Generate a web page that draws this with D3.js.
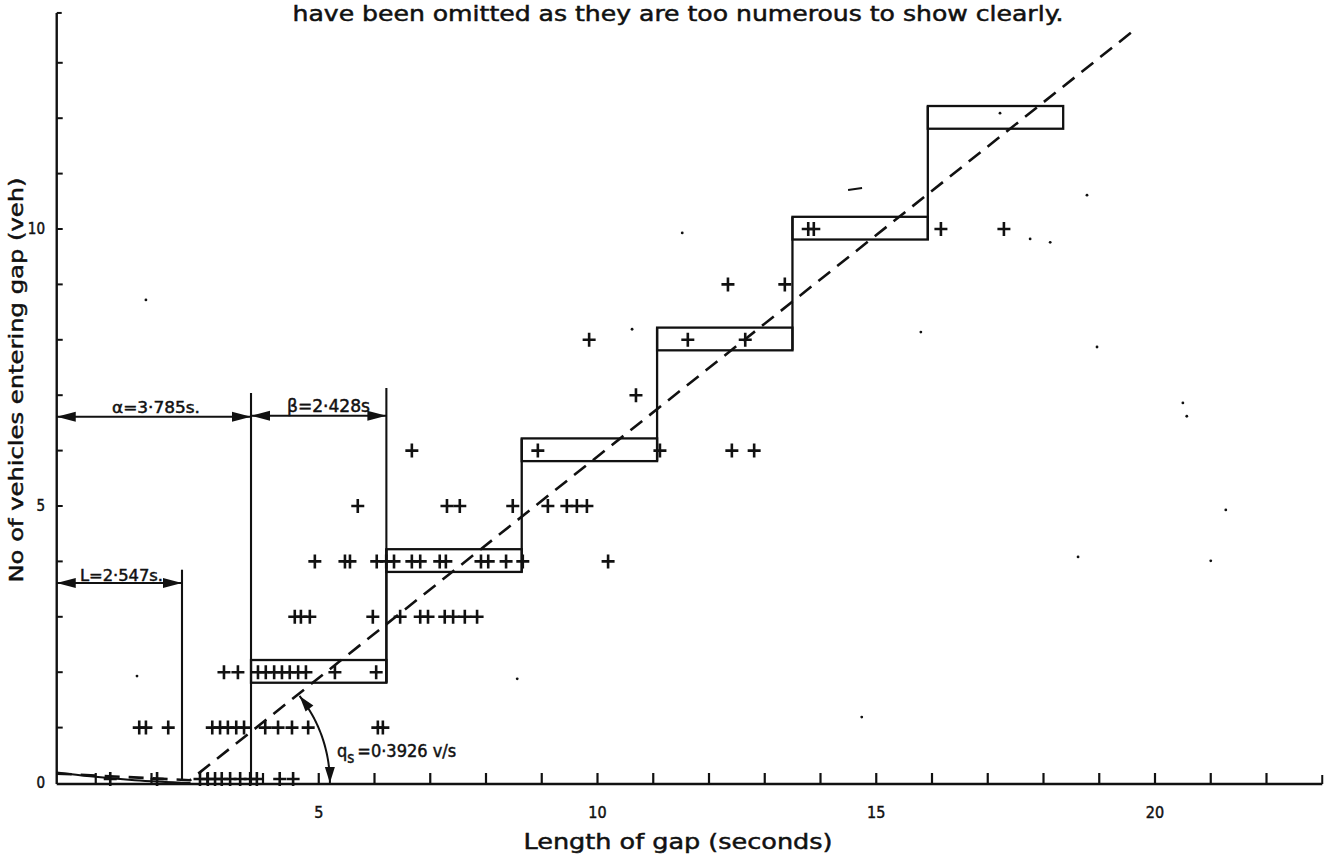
<!DOCTYPE html>
<html><head><meta charset="utf-8">
<script src="https://cdn.jsdelivr.net/npm/d3@7"></script>
<style>
html,body{margin:0;padding:0;background:#fff}
svg{display:block}
text{font-family:"DejaVu Sans Condensed","DejaVu Sans",sans-serif;fill:#111;stroke:#111;stroke-width:0.45px}
</style></head><body>
<svg id="chart" width="1329" height="862"></svg>
<script>
// Gap-acceptance parameters (seconds, vehicles per second)
const alpha = 3.785, beta = 2.428, lag = 2.547, qs = 0.3926;

// Axes
const xTicks = d3.range(1, 23);
const xTickLabels = [5, 10, 15, 20];
const yTicks = d3.range(1, 14);
const yTickLabels = [0, 5, 10];
const yAxisAt = 0.3;      // gap length where the vertical axis is drawn
const yAxisTop = 13.9;
const xAxisEnd = 23;

// Step levels of the fitted staircase (vehicles)
const stepLevels = [2, 4, 6, 8, 10, 12];

// Observed gaps, grouped by number of vehicles entering; values are gap lengths (s)
const entered0 = [1.26, 2.10, 2.87, 3.01, 3.14, 3.26, 3.41, 3.59, 3.77, 3.89, 4.30, 4.54];
const entered1 = [1.78, 1.90, 2.30, 3.09, 3.23, 3.37, 3.52, 3.66, 4.04, 4.27, 4.52, 4.81, 6.06, 6.15];
const entered2 = [3.30, 3.55, 3.91, 4.05, 4.20, 4.34, 4.48, 4.63, 4.77, 5.29, 6.03];
const entered3 = [4.57, 4.68, 4.84, 5.97, 6.46, 6.82, 6.96, 7.26, 7.41, 7.62, 7.84];
const entered4 = [4.93, 5.47, 5.56, 6.04, 6.21, 6.35, 6.67, 6.82, 7.17, 7.28, 7.91, 8.04, 8.36, 8.66, 10.19];
const entered5 = [5.70, 7.30, 7.53, 8.48, 9.11, 9.45, 9.63, 9.81];
const entered6 = [6.67, 8.93, 11.12, 12.41, 12.81];
const entered7 = [10.69];
const entered8 = [9.85, 11.62, 12.65];
const entered9 = [12.34, 13.36];
const entered10 = [13.78, 13.88, 16.16, 17.29];

// Fitted capacity line (dashed) and the lag curve near the origin
const fitLine = [[0.3, 0.17], [1.5, 0.11], [2.69, 0.05], [19.59, 13.56]];
const lagCurve = [[0.3, 0.19], [0.9, 0.12], [1.7, 0.05], [2.7, 0.0]];

// Faint specks and a stray dash on the sheet
const specks = [[18.78, 10.61], [11.52, 9.93], [15.80, 8.14], [17.76, 9.82], [18.12, 9.76],
  [18.96, 7.87], [20.50, 6.86], [20.57, 6.62], [21.27, 4.93], [18.62, 4.08], [21.00, 4.01],
  [14.74, 1.19], [8.56, 1.88], [1.74, 1.93], [17.22, 12.09], [1.90, 8.72], [10.62, 8.19]];
const dashes = [[14.62, 10.72]];

const svg = d3.select("#chart");
const x = d3.scaleLinear().domain([0, 23]).range([40, 1322.25]);
const y = d3.scaleLinear().domain([0, 14]).range([783, 7.4]);

const ink = "#111";
const g = svg.append("g");

// ---- axes ----
g.append("line").attr("x1", x(yAxisAt)).attr("x2", x(xAxisEnd))
  .attr("y1", y(0) + 1).attr("y2", y(0) + 1).attr("stroke", ink).attr("stroke-width", 2.4);
g.append("line").attr("x1", x(yAxisAt)).attr("x2", x(yAxisAt))
  .attr("y1", y(0) + 1).attr("y2", y(yAxisTop)).attr("stroke", ink).attr("stroke-width", 2.4);
g.append("line").attr("x1", x(yAxisAt)).attr("x2", x(yAxisAt) + 5)
  .attr("y1", y(yAxisTop)).attr("y2", y(yAxisTop)).attr("stroke", ink).attr("stroke-width", 2);
g.append("line").attr("x1", x(xAxisEnd)).attr("x2", x(xAxisEnd))
  .attr("y1", y(0) + 1).attr("y2", y(0) - 8).attr("stroke", ink).attr("stroke-width", 2);

g.selectAll(".xt").data(xTicks).join("line")
  .attr("x1", d => x(d)).attr("x2", d => x(d))
  .attr("y1", y(0) + 1).attr("y2", y(0) - 10)
  .attr("stroke", ink).attr("stroke-width", 2.2);
g.selectAll(".yt").data(yTicks).join("line")
  .attr("x1", x(yAxisAt)).attr("x2", x(yAxisAt) + 6)
  .attr("y1", d => y(d)).attr("y2", d => y(d))
  .attr("stroke", ink).attr("stroke-width", 2);

g.selectAll(".xl").data(xTickLabels).join("text")
  .attr("x", d => x(d)).attr("y", 818).attr("text-anchor", "middle")
  .attr("font-size", 16).text(d => d);
g.selectAll(".yl").data(yTickLabels).join("text")
  .attr("x", 45).attr("y", d => y(d) + 5).attr("text-anchor", "end")
  .attr("font-size", 15).text(d => d);

g.append("text").attr("x", 678).attr("y", 849).attr("text-anchor", "middle")
  .attr("font-size", 22).attr("textLength", 309).attr("lengthAdjust", "spacingAndGlyphs")
  .text("Length of gap (seconds)");
g.append("text").attr("transform", "translate(23,380) rotate(-90)").attr("text-anchor", "middle")
  .attr("font-size", 20).attr("textLength", 405).attr("lengthAdjust", "spacingAndGlyphs")
  .text("No of vehicles entering gap (veh)");
g.append("text").attr("x", 678).attr("y", 21).attr("text-anchor", "middle")
  .attr("font-size", 21).attr("textLength", 771).attr("lengthAdjust", "spacingAndGlyphs")
  .text("have been omitted as they are too numerous to show clearly.");

// ---- staircase of fitted critical gaps ----
const boxLo = 0.19, boxHi = 0.22;
const steps = stepLevels.map((lv, k) => ({lv, t0: alpha + k * beta, t1: alpha + (k + 1) * beta}));
g.selectAll(".box").data(steps).join("rect")
  .attr("x", d => x(d.t0)).attr("width", d => x(d.t1) - x(d.t0))
  .attr("y", d => y(d.lv + boxHi)).attr("height", d => y(d.lv - boxLo) - y(d.lv + boxHi))
  .attr("fill", "none").attr("stroke", ink).attr("stroke-width", 2.3);
// risers joining each box to the next one up
g.selectAll(".riser").data(steps.slice(1)).join("line")
  .attr("x1", d => x(d.t0)).attr("x2", d => x(d.t0))
  .attr("y1", d => y(d.lv - 2 - boxLo)).attr("y2", d => y(d.lv + boxHi))
  .attr("stroke", ink).attr("stroke-width", 2.3);

// guide verticals for the dimension arrows
const guides = [[lag, 0.05, 3.85], [alpha, 0, 7.04], [alpha + beta, 2 - boxLo, 7.13]];
g.selectAll(".guide").data(guides).join("line")
  .attr("x1", d => x(d[0])).attr("x2", d => x(d[0]))
  .attr("y1", d => y(d[1])).attr("y2", d => y(d[2]))
  .attr("stroke", ink).attr("stroke-width", 2.1);

// ---- lag curve and fitted line ----
g.append("path").datum(lagCurve)
  .attr("d", d3.line().x(d => x(d[0])).y(d => y(d[1])).curve(d3.curveMonotoneX))
  .attr("fill", "none").attr("stroke", ink).attr("stroke-width", 2);
g.append("path").datum(fitLine)
  .attr("d", d3.line().x(d => x(d[0])).y(d => y(d[1])))
  .attr("fill", "none").attr("stroke", ink).attr("stroke-width", 2.6)
  .attr("stroke-dasharray", "15 9");

// ---- arrowheads ----
function head(px, py, dx, dy, len = 19, hw = 5) {
  const n = Math.hypot(dx, dy); dx /= n; dy /= n;
  const bx = px - dx * len, by = py - dy * len;
  return `M${px},${py}L${bx - dy * hw},${by + dx * hw}L${bx + dy * hw},${by - dx * hw}Z`;
}
function dimension(t0, t1, lv) {
  const yy = y(lv);
  g.append("line").attr("x1", x(t0)).attr("x2", x(t1)).attr("y1", yy).attr("y2", yy)
    .attr("stroke", ink).attr("stroke-width", 2);
  g.append("path").attr("d", head(x(t0), yy, -1, 0)).attr("fill", ink);
  g.append("path").attr("d", head(x(t1), yy, 1, 0)).attr("fill", ink);
}
dimension(yAxisAt, lag, 3.61);
dimension(yAxisAt, alpha, 6.61);
dimension(alpha, alpha + beta, 6.63);

g.append("text").attr("x", 80).attr("y", 581).attr("font-size", 16)
  .attr("textLength", 83).attr("lengthAdjust", "spacingAndGlyphs").text("L=2·547s.");
g.append("text").attr("x", 112).attr("y", 413).attr("font-size", 16)
  .attr("textLength", 88).attr("lengthAdjust", "spacingAndGlyphs").text("α=3·785s.");
g.append("text").attr("x", 287).attr("y", 412).attr("font-size", 17)
  .attr("textLength", 83).attr("lengthAdjust", "spacingAndGlyphs").text("β=2·428s");

// ---- angle arc for the saturation flow ----
const t0 = fitLine[2][0];
const cx = x(t0), cy = y(0);
const r = x(5.2) - cx;
const p2 = fitLine[3];
const theta = Math.atan2(y(0) - y(p2[1] - fitLine[2][1]), x(p2[0]) - cx);
const arcPts = d3.range(0, 41).map(i => {
  const a = theta * i / 40;
  return [cx + r * Math.cos(a), cy - r * Math.sin(a)];
});
g.append("path").attr("d", d3.line()(arcPts)).attr("fill", "none")
  .attr("stroke", ink).attr("stroke-width", 2);
g.append("path").attr("d", head(cx + r * Math.cos(theta), cy - r * Math.sin(theta),
  -Math.sin(theta), -Math.cos(theta), 16, 5)).attr("fill", ink);
g.append("path").attr("d", head(cx + r, cy, 0, 1, 16, 5)).attr("fill", ink);

const qt = g.append("text").attr("x", 337).attr("y", 757).attr("font-size", 18);
qt.append("tspan").text("q");
qt.append("tspan").attr("dy", 6).attr("font-size", 15).text("s");
qt.append("tspan").attr("dy", -6).attr("dx", 3).text("=0·3926 v/s");

// ---- observations ----
const groups = [entered0, entered1, entered2, entered3, entered4, entered5,
  entered6, entered7, entered8, entered9, entered10];
const pts = groups.flatMap((arr, n) => arr.map(t => ({t, n})));
// zero-vehicle gaps are lifted a touch so they sit on, not under, the axis
g.selectAll(".obs").data(pts).join("path")
  .attr("transform", d => `translate(${x(d.t)},${y(d.n) - (d.n === 0 ? 4 : 0)})`)
  .attr("d", "M-6.5,0H6.5M0,-7V7")
  .attr("stroke", ink).attr("stroke-width", 2.6).attr("fill", "none");

g.selectAll(".speck").data(specks).join("circle")
  .attr("cx", d => x(d[0])).attr("cy", d => y(d[1])).attr("r", 1.4).attr("fill", ink);
g.selectAll(".dash").data(dashes).join("path")
  .attr("d", d => `M${x(d[0]) - 7},${y(d[1]) + 1}L${x(d[0]) + 7},${y(d[1]) - 1}`)
  .attr("stroke", ink).attr("stroke-width", 2);
</script>
</body></html>
